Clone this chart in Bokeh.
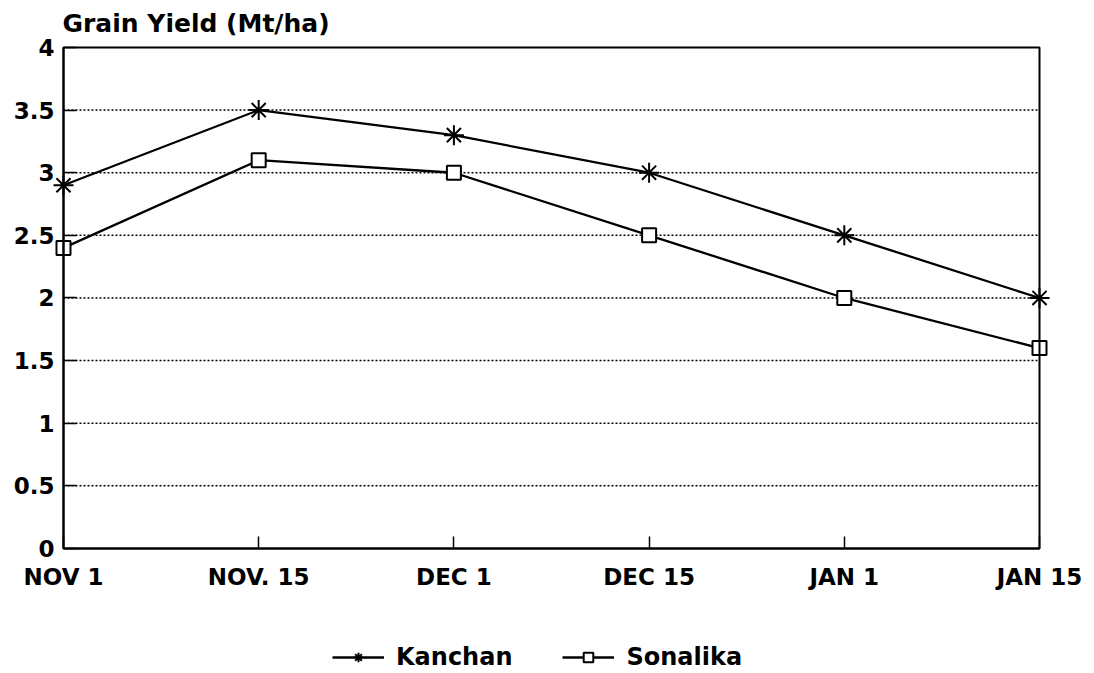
from bokeh.plotting import figure
from bokeh.models import Range1d, FixedTicker, Legend, LegendItem, BoxAnnotation, Label
from bokeh.embed import file_html
from bokeh.resources import INLINE

dates = ["NOV 1", "NOV. 15", "DEC 1", "DEC 15", "JAN 1", "JAN 15"]
kanchan = [2.9, 3.5, 3.3, 3.0, 2.5, 2.0]
sonalika = [2.4, 3.1, 3.0, 2.5, 2.0, 1.6]
y_ticks = [0, 0.5, 1, 1.5, 2, 2.5, 3, 3.5, 4]
y_labels = ["0", "0.5", "1", "1.5", "2", "2.5", "3", "3.5", "4"]

xs = list(range(len(dates)))
FONT = "DejaVu Sans"

# whole canvas is the frame; the data box (0..5 x 0..4) sits inside it with room
# around it for tick labels, title and legend
p = figure(frame_width=1092, frame_height=671, output_backend="svg", toolbar_location=None,
           x_range=Range1d(-0.3227, 5.2715), y_range=Range1d(-0.982, 4.375),
           min_border=0)
p.min_border_left = 0
p.min_border_right = 0
p.min_border_top = 0
p.min_border_bottom = 0
p.outline_line_color = None
p.xgrid.grid_line_color = None
p.ygrid.grid_line_color = None

title = Label(x=xs[0], y=y_ticks[-1], x_offset=-1, y_offset=24, text="Grain Yield (Mt/ha)",
              text_font=FONT, text_font_style="bold", text_font_size="25px",
              text_color="black", text_baseline="alphabetic", text_align="left")
p.add_layout(title)

# dotted horizontal grid lines across the data box
grid_ys = y_ticks[1:-1]
p.segment(x0=[xs[0]] * len(grid_ys), y0=grid_ys, x1=[xs[-1]] * len(grid_ys), y1=grid_ys,
          line_color="black", line_dash="2 2", line_width=1.5)

box = BoxAnnotation(left=xs[0], right=xs[-1], bottom=y_ticks[0], top=y_ticks[-1],
                    fill_alpha=0, line_color="black", line_alpha=1, line_width=2)
p.add_layout(box)

p.xaxis.ticker = FixedTicker(ticks=xs)
p.xaxis.major_label_overrides = {i: d for i, d in zip(xs, dates)}
p.xaxis.fixed_location = y_ticks[0]
p.xaxis.bounds = (xs[0], xs[-1])
p.yaxis.ticker = FixedTicker(ticks=y_ticks)
p.yaxis.major_label_overrides = {t: l for t, l in zip(y_ticks, y_labels)}
p.yaxis.fixed_location = xs[0]
p.yaxis.bounds = (y_ticks[0], y_ticks[-1])

for ax in (p.xaxis, p.yaxis):
    ax.axis_line_width = 2
    ax.axis_line_color = "black"
    ax.major_tick_line_color = "black"
    ax.major_tick_line_width = 1.5
    ax.major_tick_out = 0
    ax.minor_tick_line_color = None
    ax.major_label_text_font = FONT
    ax.major_label_text_font_style = "bold"
    ax.major_label_text_font_size = "23px"
    ax.major_label_text_color = "black"

p.xaxis.major_tick_in = 12
p.yaxis.major_tick_in = 13
p.yaxis.major_label_standoff = 9
p.xaxis.major_label_standoff = 16

l1 = p.line(xs, kanchan, line_color="black", line_width=2.3)
m1 = p.scatter(xs, kanchan, marker="asterisk", size=20, line_color="black", line_width=2)
l2 = p.line(xs, sonalika, line_color="black", line_width=2.3)
m2 = p.scatter(xs, sonalika, marker="square", size=14, line_color="black", line_width=2,
               fill_color="white")

legend = Legend(items=[LegendItem(label="Kanchan", renderers=[l1, m1]),
                       LegendItem(label="Sonalika", renderers=[l2, m2])],
                orientation="horizontal", location=(332, 0),
                label_text_font=FONT, label_text_font_style="bold",
                label_text_font_size="24px", label_text_color="black",
                border_line_color=None, background_fill_alpha=0,
                glyph_width=52, glyph_height=24, spacing=50, margin=0, padding=1)
legend.label_standoff = 12
p.add_layout(legend, "center")

open("out.html", "w").write(file_html(p, INLINE))
